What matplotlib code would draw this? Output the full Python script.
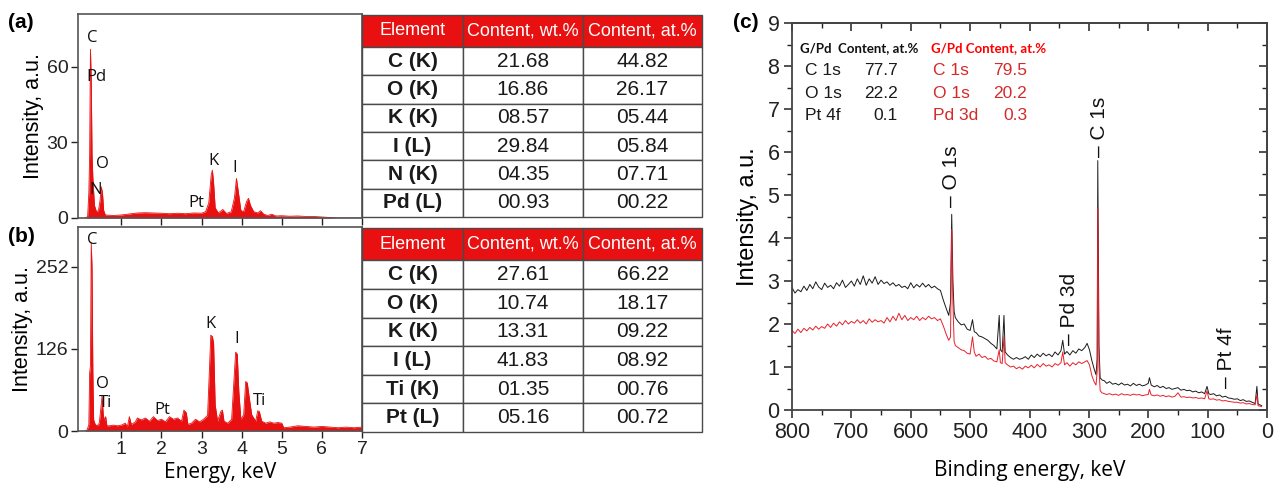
import matplotlib
matplotlib.use("Agg")
import matplotlib.pyplot as plt
from matplotlib.ticker import MultipleLocator

plt.rcParams["font.family"] = ["Liberation Sans", "DejaVu Sans"]

RED = "#e81010"

# ---- EDS spectrum (a): energy (keV) / intensity (a.u.)
eds_a_energy = [0.10, 0.16, 0.19, 0.21, 0.23, 0.25, 0.27, 0.29, 0.33, 0.38, 0.43, 0.47, 0.50,
                0.53, 0.56, 0.60, 0.80, 1.00, 1.20, 1.40, 1.60, 1.80, 2.00, 2.20, 2.40, 2.60,
                2.80, 3.00, 3.10, 3.18, 3.24, 3.27, 3.30, 3.34, 3.42, 3.53, 3.62, 3.74, 3.82,
                3.87, 3.92, 3.98, 4.05, 4.12, 4.17, 4.22, 4.30, 4.40, 4.47, 4.55, 4.65, 4.75,
                4.85, 5.00, 5.20, 5.40, 5.60, 5.80, 6.00, 6.20, 6.40, 7.00]
eds_a_counts = [0.0, 0.5, 10, 25, 67, 55, 25, 16, 5, 2.5, 3, 7, 12.4,
                10, 3, 1.2, 1.0, 1.2, 1.6, 2.0, 2.1, 2.0, 1.9, 1.7, 1.9, 1.7,
                2.0, 1.9, 2.5, 6, 17, 19, 14, 4, 2, 3.4, 1.8, 2.5, 8,
                15.7, 10, 3, 2.5, 6.5, 7.8, 5, 2.5, 2.0, 2.9, 1.5, 1.0, 1.5,
                0.8, 0.9, 0.7, 0.8, 0.6, 0.6, 0.4, 0.2, 0.0, 0.0]

# ---- EDS spectrum (b)
eds_b_energy = [0.10, 0.15, 0.19, 0.21, 0.23, 0.25, 0.27, 0.29, 0.31, 0.35, 0.40, 0.45, 0.49,
                0.52, 0.55, 0.58, 0.61, 0.64, 0.70, 0.80, 0.90, 1.00, 1.10, 1.15, 1.20, 1.25,
                1.35, 1.40, 1.50, 1.60, 1.70, 1.80, 1.90, 2.00, 2.10, 2.20, 2.30, 2.40, 2.50,
                2.56, 2.62, 2.66, 2.75, 2.85, 2.95, 3.05, 3.15, 3.20, 3.23, 3.27, 3.30, 3.34,
                3.40, 3.48, 3.52, 3.56, 3.65, 3.75, 3.80, 3.85, 3.89, 3.93, 3.98, 4.05, 4.10,
                4.14, 4.18, 4.25, 4.35, 4.40, 4.44, 4.50, 4.60, 4.70, 4.80, 4.90, 5.00, 5.05,
                5.20, 5.40, 5.60, 5.80, 6.00, 6.20, 6.40, 6.60, 6.80, 7.00]
eds_b_counts = [0, 2, 10, 89, 100, 289, 250, 90, 17, 10, 8, 12, 35,
                54, 25, 15, 22, 8, 8, 9, 8, 9, 12, 6, 22, 10,
                14, 20, 17, 20, 15, 22, 16, 18, 14, 22, 18, 20, 15,
                32, 28, 10, 12, 18, 14, 18, 24, 100, 147, 145, 135, 40,
                15, 30, 32, 15, 12, 18, 70, 121, 118, 60, 18, 25, 76,
                74, 55, 25, 15, 31, 30, 15, 12, 14, 12, 13, 12, 5,
                6, 8, 7, 6, 7, 6, 5, 6, 5, 6]

eds_a_labels = [("C", 0.27, 71.5), ("Pd", 0.37, 55.8), ("O", 0.52, 21.4), ("N", 0.37, 11.1),
                ("Pt", 2.87, 5.8), ("K", 3.29, 22.6), ("I", 3.83, 19.7)]
eds_b_labels = [("C", 0.27, 293), ("O", 0.52, 72), ("Ti", 0.60, 43.5), ("Pt", 2.02, 32),
                ("K", 3.23, 164), ("I", 3.87, 141), ("Ti", 4.44, 46)]

table_header = ["Element", "Content, wt.%", "Content, at.%"]
table_a = [["C (K)", "21.68", "44.82"], ["O (K)", "16.86", "26.17"], ["K (K)", "08.57", "05.44"],
           ["I (L)", "29.84", "05.84"], ["N (K)", "04.35", "07.71"], ["Pd (L)", "00.93", "00.22"]]
table_b = [["C (K)", "27.61", "66.22"], ["O (K)", "10.74", "18.17"], ["K (K)", "13.31", "09.22"],
           ["I (L)", "41.83", "08.92"], ["Ti (K)", "01.35", "00.76"], ["Pt (L)", "05.16", "00.72"]]

# ---- XPS survey (c): binding energy / intensity
xps_be = [800, 795, 790, 785, 780, 775, 770, 765, 760, 755, 750, 745, 740, 735, 730, 725, 720,
          715, 710, 705, 700, 695, 690, 685, 680, 675, 670, 665, 660, 655, 650, 645, 640, 635,
          630, 625, 620, 615, 610, 605, 600, 595, 590, 585, 580, 575, 570, 565, 560, 555, 550,
          545, 540, 536, 533, 531, 529, 527, 525, 520, 515, 510, 505, 500, 496, 493, 490, 485,
          480, 475, 470, 465, 460, 455, 451, 449, 446, 443, 441, 437, 432, 427, 422, 417, 412,
          407, 402, 397, 392, 387, 382, 377, 372, 367, 362, 357, 352, 347, 344, 341, 337, 332,
          327, 322, 317, 312, 307, 303, 299, 295, 291, 288, 286, 285, 283, 281, 278, 274, 270,
          265, 260, 255, 250, 245, 240, 235, 230, 225, 220, 215, 210, 205, 200, 198, 195, 190,
          185, 180, 175, 170, 165, 160, 155, 150, 145, 140, 135, 130, 125, 120, 115, 110, 105,
          101, 98, 95, 90, 85, 80, 75, 70, 65, 60, 55, 50, 45, 40, 35, 30, 25, 20, 17, 15, 12, 9]
xps_black = [2.85, 2.72, 2.80, 2.75, 2.88, 2.78, 2.92, 2.82, 2.98, 2.86, 2.80, 2.95, 2.85, 2.90,
             2.82, 2.96, 2.88, 3.02, 2.85, 2.92, 3.00, 2.88, 3.05, 2.92, 3.12, 2.90, 3.05, 2.95,
             3.10, 2.92, 3.02, 2.94, 2.98, 2.90, 2.96, 2.88, 2.92, 2.85, 2.88, 2.82, 2.96, 2.84,
             2.92, 2.86, 2.95, 2.86, 2.92, 2.84, 2.88, 2.82, 2.78, 2.55, 2.35, 2.20, 2.50, 4.55,
             3.00, 2.30, 2.15, 2.05, 1.98, 2.00, 1.88, 1.85, 2.10, 1.82, 1.80, 1.72, 1.70, 1.66,
             1.62, 1.55, 1.50, 1.42, 2.20, 1.40, 1.35, 2.20, 1.35, 1.28, 1.22, 1.18, 1.22, 1.18,
             1.20, 1.24, 1.18, 1.28, 1.22, 1.30, 1.24, 1.32, 1.26, 1.30, 1.24, 1.35, 1.28, 1.38,
             1.62, 1.30, 1.36, 1.28, 1.38, 1.32, 1.42, 1.38, 1.45, 1.55, 1.40, 1.15, 0.95, 0.82,
             1.20, 5.80, 1.50, 0.75, 0.70, 0.68, 0.62, 0.66, 0.60, 0.62, 0.58, 0.63, 0.58, 0.60,
             0.56, 0.62, 0.57, 0.60, 0.56, 0.58, 0.62, 0.75, 0.58, 0.54, 0.57, 0.52, 0.55, 0.50,
             0.52, 0.48, 0.50, 0.52, 0.46, 0.48, 0.45, 0.46, 0.42, 0.44, 0.40, 0.42, 0.38, 0.55,
             0.38, 0.36, 0.38, 0.33, 0.35, 0.30, 0.32, 0.28, 0.27, 0.25, 0.26, 0.22, 0.24, 0.20,
             0.21, 0.18, 0.15, 0.55, 0.14, 0.12, 0.10]
xps_red = [1.85, 1.78, 1.88, 1.80, 1.90, 1.84, 1.92, 1.86, 1.95, 1.88, 1.94, 1.90, 2.00, 1.92,
           2.02, 1.95, 2.05, 1.98, 2.08, 2.00, 2.06, 2.02, 2.10, 2.02, 2.08, 2.00, 2.12, 2.04,
           2.10, 2.05, 2.08, 2.02, 2.15, 2.05, 2.18, 2.08, 2.25, 2.10, 2.20, 2.08, 2.15, 2.10,
           2.18, 2.08, 2.15, 2.10, 2.18, 2.12, 2.15, 2.08, 2.12, 1.95, 1.75, 1.62, 1.70, 4.20,
           2.50, 1.60, 1.50, 1.45, 1.40, 1.38, 1.32, 1.30, 1.70, 1.35, 1.25, 1.30, 1.22, 1.25,
           1.18, 1.20, 1.14, 1.12, 1.40, 1.10, 1.08, 1.70, 1.10, 1.05, 1.00, 1.02, 0.96, 1.00,
           0.95, 1.02, 0.98, 1.04, 0.98, 1.06, 1.00, 1.08, 1.02, 1.05, 1.00, 1.08, 1.04, 1.10,
           1.35, 1.05, 1.10, 1.02, 1.10, 1.05, 1.12, 1.08, 1.12, 1.15, 1.05, 0.80, 0.65, 0.58,
           0.90, 4.70, 1.00, 0.45, 0.40, 0.38, 0.36, 0.38, 0.35, 0.37, 0.34, 0.38, 0.35, 0.36,
           0.34, 0.37, 0.35, 0.36, 0.33, 0.35, 0.36, 0.48, 0.35, 0.33, 0.35, 0.32, 0.34, 0.31,
           0.33, 0.30, 0.32, 0.40, 0.30, 0.31, 0.29, 0.30, 0.28, 0.29, 0.27, 0.28, 0.26, 0.45,
           0.26, 0.25, 0.26, 0.23, 0.24, 0.21, 0.22, 0.20, 0.19, 0.18, 0.18, 0.16, 0.17, 0.14,
           0.15, 0.13, 0.12, 0.35, 0.10, 0.09, 0.08]

xps_peaks = [("– O 1s", 532, 4.72), ("– C 1s", 281.5, 5.88), ("– Pd 3d", 332, 1.51),
             ("– Pt 4f", 68, 0.51)]
inset_black = [("C 1s", "77.7"), ("O 1s", "22.2"), ("Pt 4f", "0.1")]
inset_red = [("C 1s", "79.5"), ("O 1s", "20.2"), ("Pd 3d", "0.3")]

W, H = 1274, 483
fig = plt.figure(figsize=(W / 100, H / 100), dpi=100)


def px_rect(x0, y0, x1, y1):
    return [x0 / W, 1 - y1 / H, (x1 - x0) / W, (y1 - y0) / H]


def eds_axes(rect, energy, counts, ymax, yticks, labels, show_x):
    ax = fig.add_axes(rect)
    ax.fill_between(energy, counts, 0, color=RED, lw=0)
    ax.plot(energy, counts, color=RED, lw=0.6)
    ax.set_xlim(-0.08, 7.0)
    ax.set_ylim(0, ymax)
    ax.set_xticks(range(1, 8))
    ax.set_yticks(yticks)
    ax.tick_params(direction="out", length=5, width=1.0, labelsize=14, colors="#222222",
                   pad=2)
    if not show_x:
        ax.tick_params(labelbottom=False)
    for sp in ax.spines.values():
        sp.set_color("#555555")
        sp.set_linewidth(1.2)
    ax.set_ylabel("Intensity, a.u.", fontsize=15.5, labelpad=2)
    for txt, x, y in labels:
        ax.text(x, y, txt, ha="center", va="center", fontsize=12, family="Open Sans",
                color="#111111")
    return ax


ax_a = eds_axes(px_rect(78, 14, 362, 218), eds_a_energy, eds_a_counts, 81,
                [0, 30, 60], eds_a_labels, False)
ax_b = eds_axes(px_rect(78, 227, 362, 431), eds_b_energy, eds_b_counts, 313,
                [0, 126, 252], eds_b_labels, True)
ax_b.set_xlabel("Energy, keV", fontsize=15, family="Open Sans", labelpad=3)


def draw_table(rect, rows):
    tax = fig.add_axes(rect)
    tax.axis("off")
    tbl = tax.table(cellText=rows, colLabels=table_header, cellLoc="center",
                    colWidths=[101, 120, 119], bbox=[0, 0, 1, 1])
    tbl.auto_set_font_size(False)
    for (r, c), cell in tbl.get_celld().items():
        cell.set_edgecolor("#4a4a4a")
        cell.set_linewidth(1.0)
        txt = cell.get_text()
        if r == 0:
            cell.set_height(32)
            cell.set_facecolor(RED)
            txt.set_color("white")
            txt.set_fontsize(13)
        else:
            cell.set_height(28.4)
            txt.set_fontsize(15)
            txt.set_color("#1a1a1a")
            if c == 0:
                txt.set_fontweight("bold")
    return tax


draw_table(px_rect(362, 15, 702, 217), table_a)
draw_table(px_rect(362, 228, 702, 432), table_b)

# ---- panel (c)
ax_c = fig.add_axes(px_rect(792, 23, 1267, 410))
ax_c.plot(xps_be, xps_black, color="#1a1a1a", lw=0.7)
ax_c.plot(xps_be, xps_red, color="#e8202a", lw=0.7)
ax_c.set_xlim(800, 0)
ax_c.set_ylim(0, 9)
ax_c.xaxis.set_major_locator(MultipleLocator(100))
ax_c.xaxis.set_minor_locator(MultipleLocator(50))
ax_c.yaxis.set_major_locator(MultipleLocator(1))
ax_c.yaxis.set_minor_locator(MultipleLocator(0.5))
ax_c.tick_params(which="major", direction="out", length=6, width=1.1, labelsize=15.5,
                 colors="#222222", pad=3)
ax_c.tick_params(which="minor", direction="out", length=3.5, width=1.0, colors="#222222")
for sp in ax_c.spines.values():
    sp.set_color("#444444")
    sp.set_linewidth(1.3)

top = ax_c.secondary_xaxis("top")
top.xaxis.set_major_locator(MultipleLocator(100))
top.xaxis.set_minor_locator(MultipleLocator(50))
top.tick_params(which="major", direction="in", length=6, width=1.1, labeltop=False,
                colors="#222222")
top.tick_params(which="minor", direction="in", length=3.5, width=1.0, colors="#222222")
right = ax_c.secondary_yaxis("right")
right.yaxis.set_major_locator(MultipleLocator(1))
right.yaxis.set_minor_locator(MultipleLocator(0.5))
right.tick_params(which="major", direction="in", length=6, width=1.1, labelright=False,
                  colors="#222222")
right.tick_params(which="minor", direction="in", length=3.5, width=1.0, colors="#222222")
for sec in (top, right):
    for sp in sec.spines.values():
        sp.set_color("#444444")
        sp.set_linewidth(1.3)

ax_c.set_xlabel("Binding energy, keV", fontsize=15, family="Open Sans", labelpad=12)
ax_c.set_ylabel("Intensity, a.u.", fontsize=17, labelpad=6)

for txt, x, y in xps_peaks:
    ax_c.text(x, y, txt, rotation=90, ha="center", va="bottom", fontsize=15,
              color="#111111")

ax_c.text(0.017, 0.935, "G/Pd  Content, at.%", transform=ax_c.transAxes, fontsize=9.5,
          family="Lato", weight="bold", color="#111111", va="center")
ax_c.text(0.293, 0.935, "G/Pd Content, at.%", transform=ax_c.transAxes, fontsize=9.5,
          family="Lato", weight="bold", color="#ff0000", va="center")
row_y = [0.876, 0.819, 0.762]
for (lab, val), y in zip(inset_black, row_y):
    ax_c.text(0.027, y, lab, transform=ax_c.transAxes, fontsize=12.5, va="center",
              color="#1a1a1a")
    ax_c.text(0.223, y, val, transform=ax_c.transAxes, fontsize=12.5, va="center",
              ha="right", color="#1a1a1a")
for (lab, val), y in zip(inset_red, row_y):
    ax_c.text(0.297, y, lab, transform=ax_c.transAxes, fontsize=12.5, va="center",
              color="#d42a2a")
    ax_c.text(0.495, y, val, transform=ax_c.transAxes, fontsize=12.5, va="center",
              ha="right", color="#d42a2a")

fig.text(8 / W, 1 - 22 / H, "(a)", fontsize=15, weight="bold", va="center")
fig.text(8 / W, 1 - 237 / H, "(b)", fontsize=15, weight="bold", va="center")
fig.text(733 / W, 1 - 22 / H, "(c)", fontsize=15, weight="bold", va="center")

fig.savefig("out.png", dpi=100)
